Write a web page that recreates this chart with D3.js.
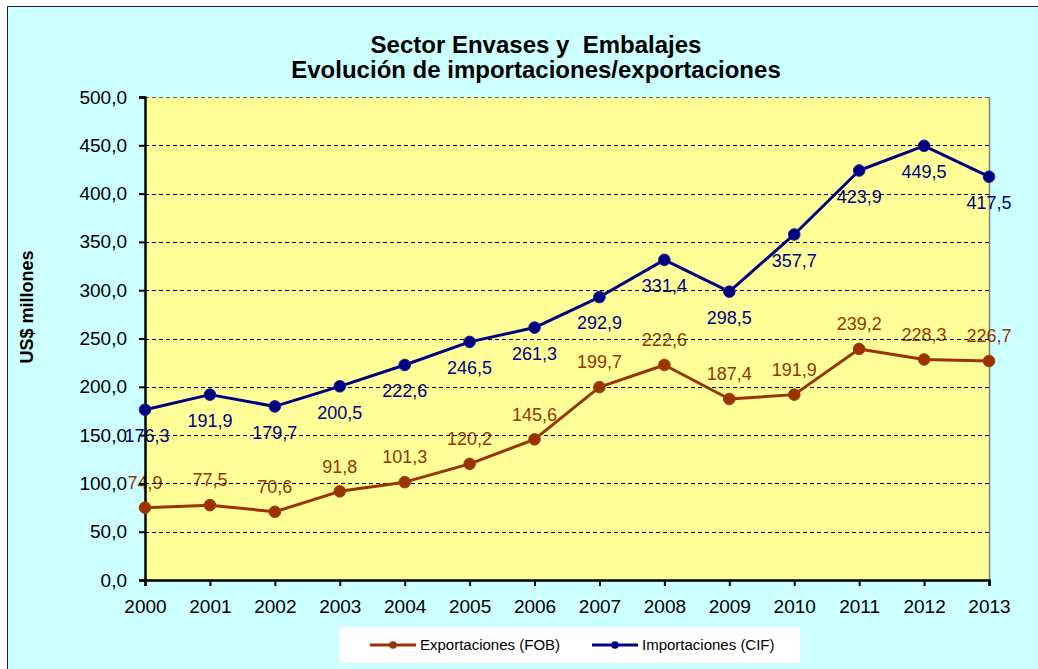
<!DOCTYPE html>
<html>
<head>
<meta charset="utf-8">
<script src="https://cdn.jsdelivr.net/npm/d3@7"></script>
<style>
  html, body { margin: 0; padding: 0; background: #fff; }
  svg { display: block; }
</style>
</head>
<body>
<svg id="chart" width="1038" height="669"></svg>
<script>
const years = ["2000","2001","2002","2003","2004","2005","2006","2007","2008","2009","2010","2011","2012","2013"];
const exportaciones = [74.9, 77.5, 70.6, 91.8, 101.3, 120.2, 145.6, 199.7, 222.6, 187.4, 191.9, 239.2, 228.3, 226.7];
const importaciones = [176.3, 191.9, 179.7, 200.5, 222.6, 246.5, 261.3, 292.9, 331.4, 298.5, 357.7, 423.9, 449.5, 417.5];
const yTicks = [0, 50, 100, 150, 200, 250, 300, 350, 400, 450, 500];
const titleLines = ["Sector Envases y  Embalajes", "Evolución de importaciones/exportaciones"];
const yAxisTitle = "US$ millones";
const seriesNames = ["Exportaciones (FOB)", "Importaciones (CIF)"];

const fmt = v => d3.format(".1f")(v).replace(".", ",");

const svg = d3.select("#chart");
const W = 1038, H = 669;
const plot = { left: 145, right: 989, top: 97, bottom: 580 };

// background
svg.append("rect").attr("x", 0).attr("y", 0).attr("width", W).attr("height", H).attr("fill", "#ffffff");
svg.append("rect").attr("x", 7.5).attr("y", 6.5).attr("width", W).attr("height", H)
  .attr("fill", "#CCFFFF").attr("stroke", "#222").attr("stroke-width", 1);

const x = d3.scalePoint().domain(years).range([plot.left, plot.right]);
const y = d3.scaleLinear().domain([0, 500]).range([plot.bottom, plot.top]);

// plot area
svg.append("rect").attr("x", plot.left).attr("y", plot.top)
  .attr("width", plot.right - plot.left).attr("height", plot.bottom - plot.top)
  .attr("fill", "#FFFF99");
svg.append("line").attr("x1", plot.right + 0.5).attr("x2", plot.right + 0.5)
  .attr("y1", plot.top).attr("y2", plot.bottom).attr("stroke", "#808080").attr("stroke-width", 1.5);

// title
const title = svg.append("text").attr("text-anchor", "middle")
  .attr("font-family", "Arial, 'Liberation Sans', sans-serif").attr("font-weight", "bold")
  .attr("font-size", 24).attr("fill", "#000");
titleLines.forEach((t, i) => {
  title.append("tspan").attr("x", 536).attr("y", 53 + i * 25).attr("xml:space", "preserve").text(t);
});

// y axis title
svg.append("text").attr("transform", "translate(33,307) rotate(-90)")
  .attr("text-anchor", "middle")
  .attr("font-family", "Arial, 'Liberation Sans', sans-serif").attr("font-weight", "bold")
  .attr("font-size", 18).text(yAxisTitle);

const narrow = "'Liberation Sans Narrow', 'Arial Narrow', Arial, sans-serif";

// data labels (under gridlines like the reference)
const lblE = svg.append("g").attr("font-family", narrow).attr("font-size", 18)
  .attr("fill", "#993300").attr("text-anchor", "middle");
lblE.selectAll("text").data(exportaciones).join("text")
  .attr("x", (d, i) => x(years[i])).attr("y", d => y(d) - 25)
  .attr("dy", "0.35em").text(fmt);
const lblI = svg.append("g").attr("font-family", narrow).attr("font-size", 18)
  .attr("fill", "#000080").attr("text-anchor", "middle");
lblI.selectAll("text").data(importaciones).join("text")
  .attr("x", (d, i) => x(years[i]) + (i === 0 ? 2 : 0)).attr("y", d => y(d) + 26)
  .attr("dy", "0.35em").text(fmt);

// gridlines
svg.append("g").selectAll("line").data(yTicks.filter(t => t > 0)).join("line")
  .attr("x1", plot.left).attr("x2", plot.right)
  .attr("y1", d => Math.round(y(d)) + 0.5).attr("y2", d => Math.round(y(d)) + 0.5)
  .attr("stroke", d => d === 500 ? "#666" : "#000").attr("stroke-width", 1.2)
  .attr("stroke-dasharray", "4,3");

// axes
const yAxis = d3.axisLeft(y).tickValues(yTicks).tickSize(6).tickPadding(12).tickFormat(fmt);
const gy = svg.append("g").attr("transform", `translate(${plot.left},0)`).call(yAxis);
gy.select(".domain").attr("stroke", "#000").attr("stroke-width", 2.5);
gy.selectAll(".tick line").attr("stroke", "#000").attr("stroke-width", 2);
gy.selectAll(".tick text").attr("font-family", "Arial, 'Liberation Sans', sans-serif")
  .attr("font-size", 19).attr("fill", "#000");

const xAxis = d3.axisBottom(x).tickSize(6).tickPadding(14);
const gx = svg.append("g").attr("transform", `translate(0,${plot.bottom})`).call(xAxis);
gx.select(".domain").attr("stroke", "#000").attr("stroke-width", 2.5);
gx.selectAll(".tick line").attr("stroke", "#000").attr("stroke-width", 2);
gx.selectAll(".tick text").attr("font-family", "Arial, 'Liberation Sans', sans-serif")
  .attr("font-size", 19).attr("fill", "#000");

// lines
const line = d3.line().x((d, i) => x(years[i])).y(d => y(d));
const series = [
  { vals: exportaciones, color: "#993300", stroke: "#A33A0A" },
  { vals: importaciones, color: "#000080", stroke: "#1C1C9A" }
];
series.forEach(s => {
  svg.append("path").datum(s.vals).attr("d", line).attr("fill", "none")
    .attr("stroke", s.color).attr("stroke-width", 3).attr("stroke-linejoin", "round");
  svg.append("g").selectAll("circle").data(s.vals).join("circle")
    .attr("cx", (d, i) => x(years[i])).attr("cy", d => y(d)).attr("r", 5.8)
    .attr("fill", s.color).attr("stroke", s.stroke).attr("stroke-width", 1);
});

// legend
const lg = svg.append("g");
lg.append("rect").attr("x", 339).attr("y", 627).attr("width", 461).attr("height", 36).attr("fill", "#fff");
const legendX = [370, 592];
seriesNames.forEach((name, i) => {
  const g = lg.append("g").attr("transform", `translate(${legendX[i]},645)`);
  g.append("line").attr("x1", 0).attr("x2", 46).attr("stroke", series[i].color).attr("stroke-width", 3);
  g.append("circle").attr("cx", 23).attr("r", 3.8).attr("fill", series[i].color);
  g.append("text").attr("x", 50).attr("dy", "0.35em")
    .attr("font-family", "Arial, 'Liberation Sans', sans-serif").attr("font-size", 15)
    .attr("fill", "#000").text(name);
});
</script>
</body>
</html>
